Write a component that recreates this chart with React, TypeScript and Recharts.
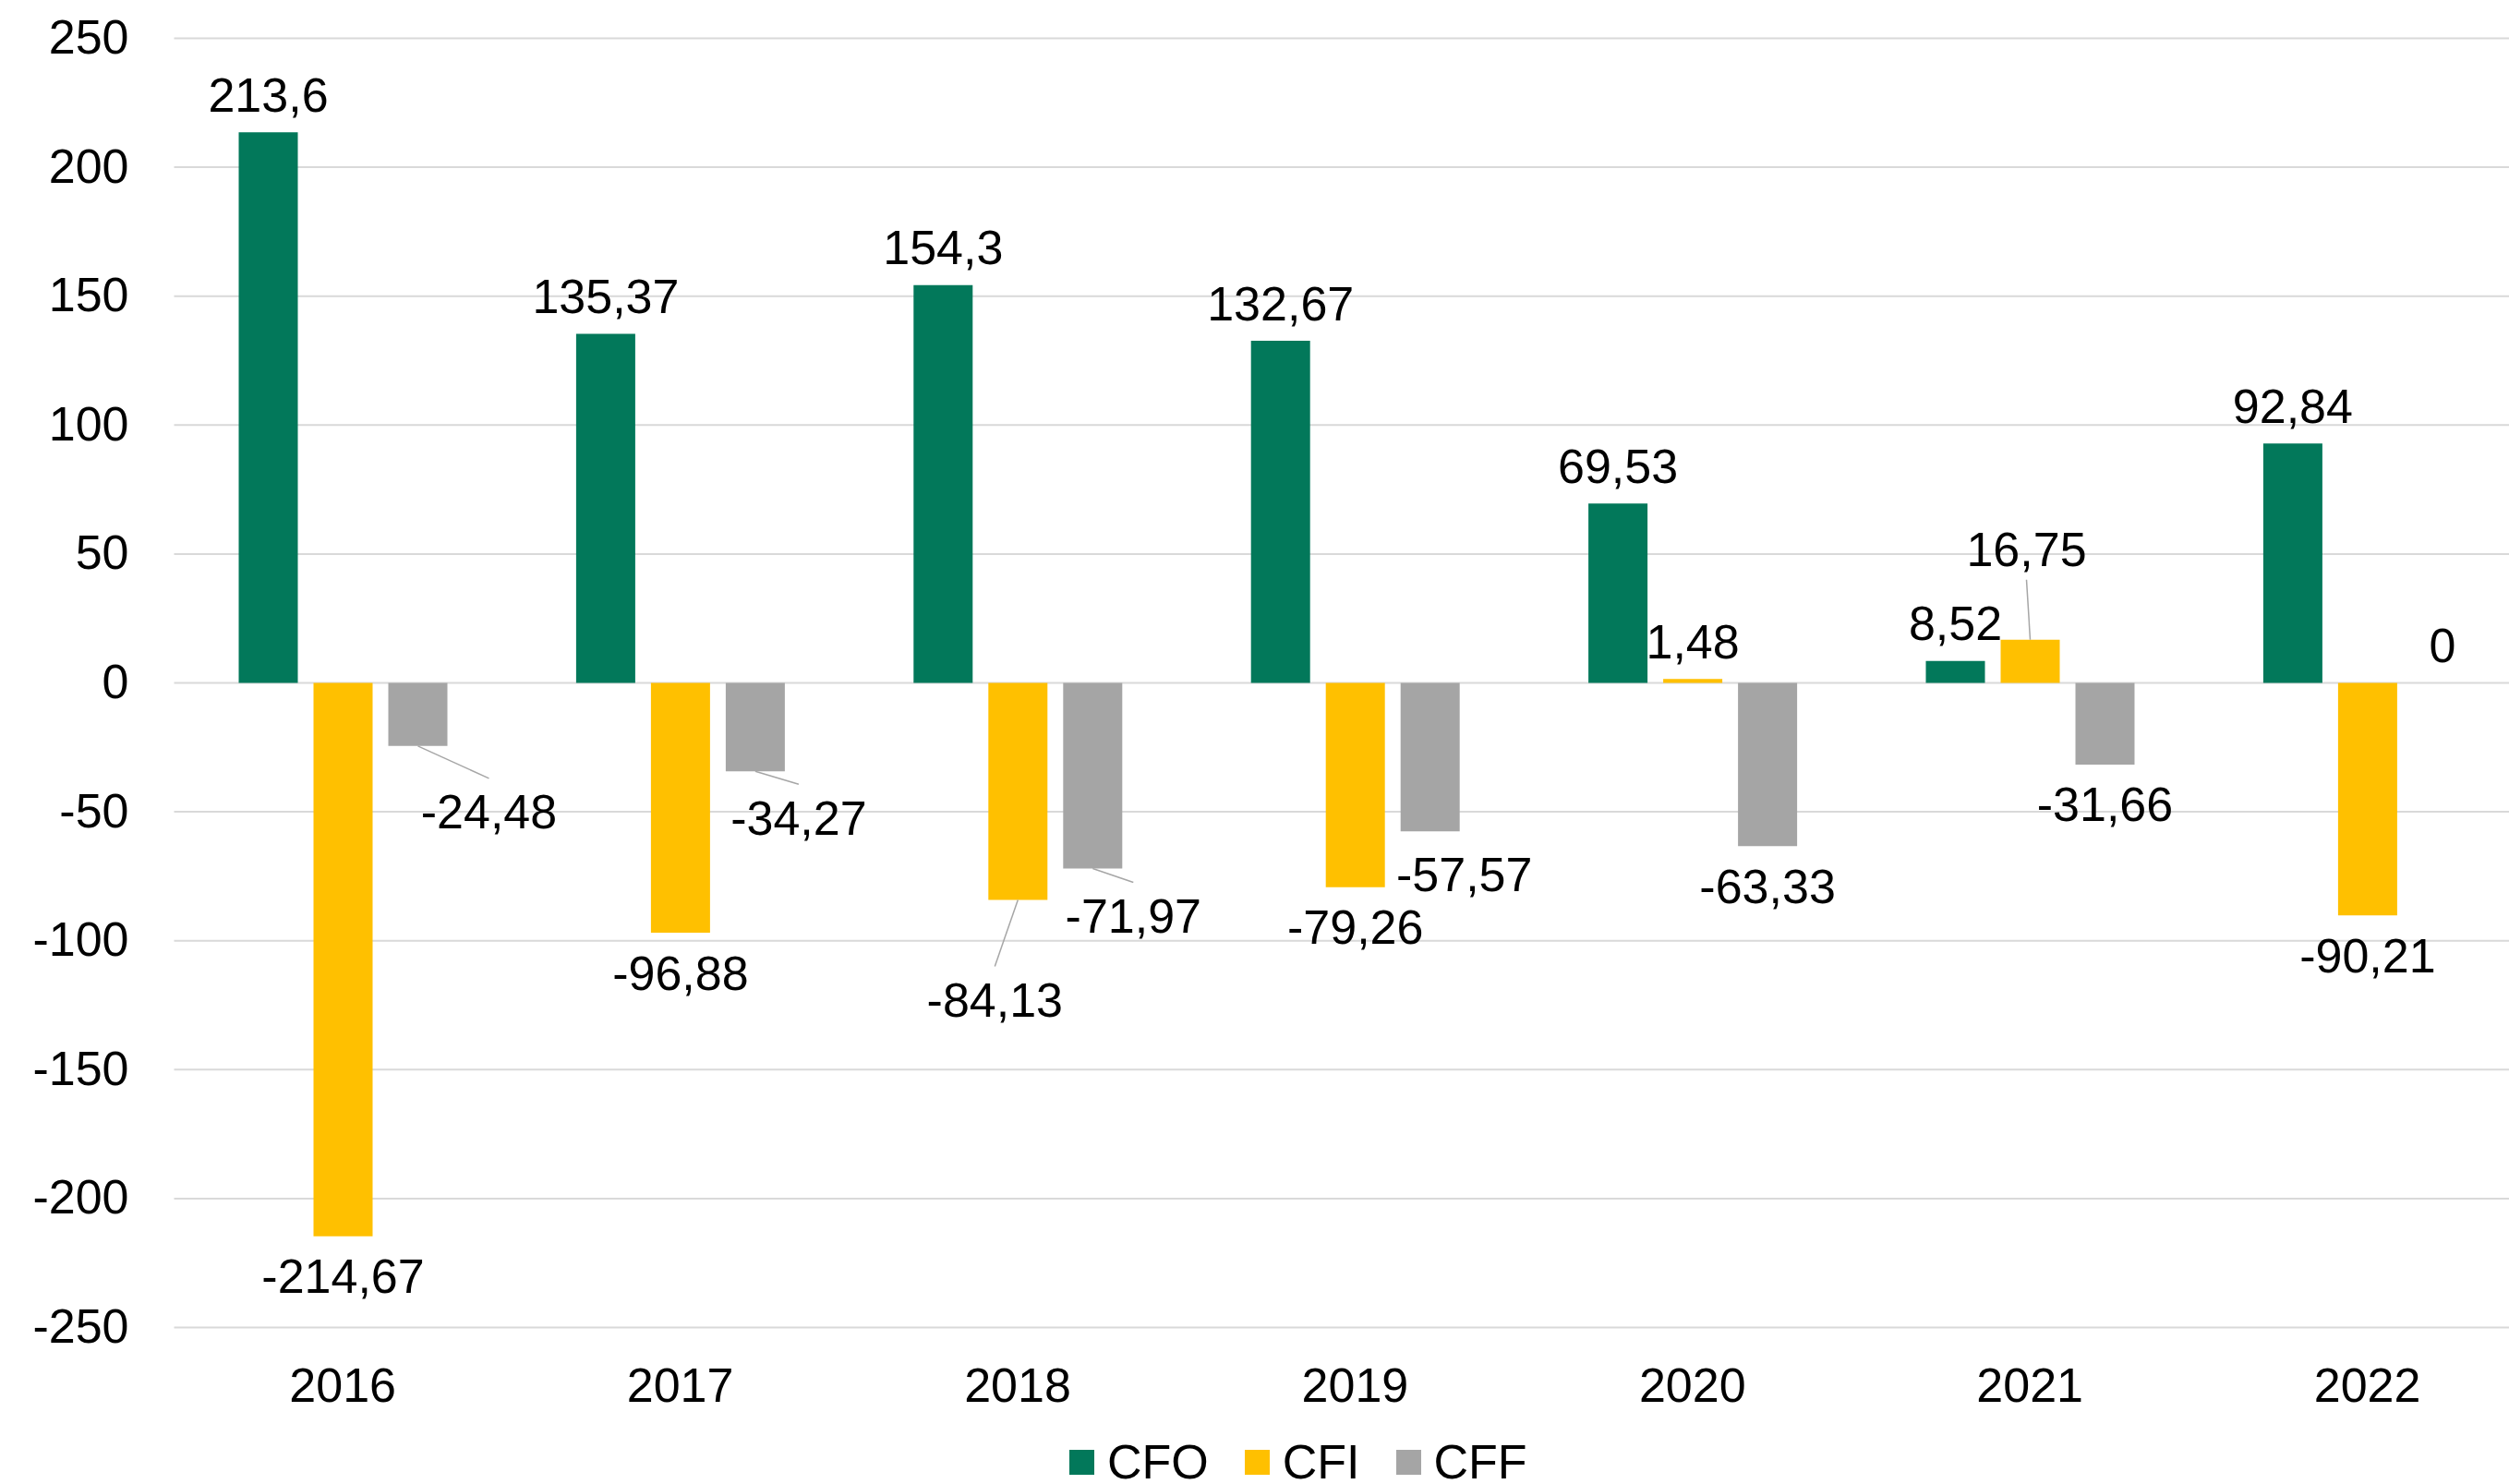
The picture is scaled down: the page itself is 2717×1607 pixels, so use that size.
import { BarChart, Bar, XAxis, YAxis, CartesianGrid, Legend, LabelList } from 'recharts';

const years = ['2016', '2017', '2018', '2019', '2020', '2021', '2022'];
const cfo = [213.6, 135.37, 154.3, 132.67, 69.53, 8.52, 92.84];
const cfi = [-214.67, -96.88, -84.13, -79.26, 1.48, 16.75, -90.21];
const cff = [-24.48, -34.27, -71.97, -57.57, -63.33, -31.66, 0];
const yTicks = [-250, -200, -150, -100, -50, 0, 50, 100, 150, 200, 250];

const COLORS = { CFO: '#02785A', CFI: '#FFC000', CFF: '#A5A5A5' };
const FONT = '"Liberation Sans", Arial, sans-serif';

// labels Excel moved by hand (offset of text centre from the bar end)
const LABEL_MOVES: Record<string, Record<number, { dx: number; dy: number; leader?: boolean }>> = {
  CFI: {
    2: { dx: -25, dy: 108, leader: true },
    5: { dx: -4, dy: -98, leader: true },
  },
  CFF: {
    0: { dx: 77, dy: 71, leader: true },
    1: { dx: 47, dy: 50, leader: true },
    2: { dx: 44, dy: 51, leader: true },
    3: { dx: 37, dy: 46 },
  },
};

const data = years.map((year, i) => ({ year, CFO: cfo[i], CFI: cfi[i], CFF: cff[i] }));

const fmt = (v: number) => String(v).replace('.', ',');

function makeLabel(series: string) {
  return (props: any) => {
    const vb = props.viewBox ?? props;
    const x = Number(vb.x ?? props.x);
    const y = Number(vb.y ?? props.y);
    const w = Number(vb.width ?? props.width);
    const h = Number(vb.height ?? props.height ?? 0);
    const value = Number(props.value);
    const idx = props.index;
    const cx = x + w / 2;
    const endY = value >= 0 ? Math.max(Math.min(y, y + h), Math.max(y, y + h) - Math.abs(h)) : Math.max(y, y + h);
    const move = LABEL_MOVES[series]?.[idx];
    const dx = move ? move.dx : 0;
    const dy = move ? move.dy : value >= 0 ? -41 : 43;
    const lx = cx + dx;
    const ly = endY + dy;
    return (
      <g key={`${series}-${idx}`}>
        {move?.leader && (
          <line
            x1={cx}
            y1={endY}
            x2={lx}
            y2={dy > 0 ? ly - 36 : ly + 33}
            stroke="#A6A6A6"
            strokeWidth={1.5}
          />
        )}
        <text x={lx} y={ly + 18.6} textAnchor="middle" fontSize={52} fontFamily={FONT} fill="#000">
          {fmt(value)}
        </text>
      </g>
    );
  };
}

function LegendContent() {
  const items = ['CFO', 'CFI', 'CFF'];
  return (
    <div style={{ display: 'flex', alignItems: 'center', fontFamily: FONT, fontSize: 52, lineHeight: '44px', color: '#000' }}>
      {items.map((k) => (
        <div key={k} style={{ display: 'flex', alignItems: 'center', marginRight: 39 }}>
          <span style={{ display: 'inline-block', width: 27, height: 27, background: (COLORS as any)[k], marginRight: 14 }} />
          <span>{k}</span>
        </div>
      ))}
    </div>
  );
}

export default function App() {
  return (
    <div style={{ width: 2717, height: 1607, overflow: 'hidden', position: 'relative', background: '#fff', fontFamily: FONT }}>
      <style>{'body{margin:0;overflow:hidden}'}</style>
      <BarChart
        width={2760}
        height={1607}
        data={data}
        margin={{ top: 41.5, right: 13.7, left: 0, bottom: 0 }}
        barGap={17}
        barSize={64}
      >
        <CartesianGrid horizontal vertical={false} stroke="#D9D9D9" strokeWidth={2} />
        <XAxis
          dataKey="year"
          axisLine={false}
          tickLine={false}
          tickSize={0}
          tickMargin={44}
          height={169.5}
          interval={0}
          tick={{ fill: '#000', fontSize: 52, fontFamily: FONT }}
        />
        <YAxis
          domain={[-250, 250]}
          ticks={yTicks}
          interval={0}
          axisLine={false}
          tickLine={false}
          tickSize={0}
          tickMargin={49}
          width={188.5}
          tick={{ fill: '#000', fontSize: 52, fontFamily: FONT, dy: -2 }}
        />
        <Legend
          layout="horizontal"
          verticalAlign="middle"
          align="center"
          content={() => <LegendContent />}
          wrapperStyle={{ position: 'absolute', top: 1561, left: 1158, width: 'auto', height: 'auto' }}
        />
        <Bar dataKey="CFO" name="CFO" fill={COLORS.CFO} isAnimationActive={false}>
          <LabelList dataKey="CFO" content={makeLabel('CFO')} />
        </Bar>
        <Bar dataKey="CFI" name="CFI" fill={COLORS.CFI} isAnimationActive={false}>
          <LabelList dataKey="CFI" content={makeLabel('CFI')} />
        </Bar>
        <Bar
          dataKey="CFF"
          name="CFF"
          fill={COLORS.CFF}
          minPointSize={(v: number) => (v === 0 ? 0.01 : 0)}
          isAnimationActive={false}
        >
          <LabelList dataKey="CFF" content={makeLabel('CFF')} />
        </Bar>
      </BarChart>
    </div>
  );
}
